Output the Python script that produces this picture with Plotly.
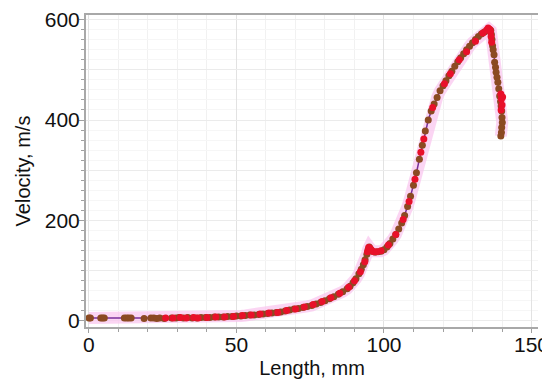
import plotly.graph_objects as go

# Brown (main) markers: length (mm), velocity (m/s)
length_a = [0, 0.5, 4, 4.6, 5.2, 12, 12.8, 13.5, 14.3, 18.7, 21, 22, 23, 24, 25.5, 28, 29.5, 30.5,
            32, 33.5, 35, 36.5, 38, 39.5, 41, 42.5, 44, 45.5, 47, 48.5, 50, 51.5, 53, 54.5, 56,
            57.5, 59, 60.5, 62, 63.5, 65, 66.5, 68, 69.5, 71, 72.5, 74, 75.5, 77, 78.5, 80, 81.5,
            83, 84.5, 86, 87.5, 88.5, 89.5, 90.5, 91.5, 92.3, 93, 93.6, 94.2, 94.6, 95, 95.5, 96,
            97, 98, 99, 100, 101, 102, 103, 104, 105, 106, 107, 108, 109, 110, 111, 112, 113, 114,
            115, 116, 117, 118, 119, 120, 121, 122, 123, 124, 125, 126, 127, 128, 129, 130, 131,
            132, 133, 134, 135, 135.6, 136.2, 136.4, 136.6, 136.8, 137, 137.3, 137.5, 137.8, 138,
            138.3, 138.6, 138.9, 139.2, 139.5, 139.7, 139.9, 140, 140.1, 139.9, 139.8, 139.6]
velocity_a = [6, 6, 6, 6, 6, 6, 6, 6, 6, 5, 6, 6, 5, 6, 5, 6, 6, 7,
              6, 7, 6, 6, 7, 7, 7, 8, 8, 8, 9, 9, 10, 10, 11, 12, 12,
              13, 14, 15, 16, 17, 18, 20, 22, 24, 25, 27, 29, 31, 34, 37, 40, 44,
              48, 53, 58, 64, 69, 76, 84, 94, 103, 112, 122, 133, 142, 147, 143, 139,
              137, 138, 139, 142, 147, 154, 163, 172, 183, 195, 210, 228, 248, 270, 295, 322, 350, 378,
              400, 418, 432, 445, 458, 468, 478, 488, 497, 507, 516, 524, 532, 540, 547, 554, 560,
              566, 571, 575, 578, 581, 578, 570, 560, 548, 540, 530, 515, 505, 495,
              485, 475, 462, 448, 437, 428, 418, 405, 395, 385, 375, 368]

# Red markers
length_b = [26, 28.5, 31, 33, 35.5, 37, 40, 43, 46, 49, 52, 55, 58, 61, 64, 67, 70, 73, 76, 79,
            82, 85, 88, 90, 92, 93.5, 94.4, 94.8, 95.2, 95.8, 96.5, 97.5, 99, 101.5, 104, 106.5,
            108.5, 110.5, 112.5, 113.5, 116.5, 120.5, 122.5, 125.5, 128, 131, 133.5, 134.8, 135.3,
            135.9, 136.1, 136.3, 136.5, 139.6, 139.8, 140.0, 139.7, 140.2]
velocity_b = [6, 6, 7, 6, 7, 6, 7, 8, 8, 9, 11, 12, 14, 16, 17, 21, 24, 28, 33, 39,
              46, 55, 67, 80, 98, 118, 138, 146, 145, 141, 138, 138, 140, 151, 172, 202,
              238, 282, 336, 362, 425, 472, 492, 520, 536, 557, 573, 579, 583,
              580, 575, 566, 555, 452, 442, 430, 420, 446]

fig = go.Figure()

# pink halo
fig.add_trace(go.Scatter(x=length_a, y=velocity_a, mode="lines",
                         line=dict(color="rgba(250,195,238,0.7)", width=12),
                         hoverinfo="skip", showlegend=False))
# purple connecting line
fig.add_trace(go.Scatter(x=length_a, y=velocity_a, mode="lines",
                         line=dict(color="#7a2f9a", width=1.5),
                         showlegend=False))
fig.add_trace(go.Scatter(x=length_a, y=velocity_a, mode="markers",
                         marker=dict(color="#8b4a22", size=7),
                         showlegend=False))
fig.add_trace(go.Scatter(x=length_b, y=velocity_b, mode="markers",
                         marker=dict(color="#e8102a", size=7),
                         showlegend=False))
# helper axis for y grid every 100
fig.add_trace(go.Scatter(x=[None], y=[None], yaxis="y2", showlegend=False))

font_family = "Liberation Sans, Arial, sans-serif"

# page body has an 8px default margin, so the figure is 8px smaller
fig.update_layout(
    width=542, height=382,
    margin=dict(l=78, r=12, t=7, b=63),
    paper_bgcolor="white", plot_bgcolor="white",
    font=dict(family=font_family, color="#111111", size=21),
    xaxis=dict(
        range=[-1, 152.2], tickvals=[0, 50, 100, 150], automargin=False,
        ticks="outside", ticklen=4, tickcolor="#a0a0a0", ticklabelstandoff=-6,
        ticklabeloverflow="allow",
        showline=True, linecolor="#a8a8a8", linewidth=2, mirror=True,
        showgrid=True, gridcolor="#e2e2e2", gridwidth=1, zeroline=False,
        minor=dict(dtick=10, ticks="outside", ticklen=3, tickcolor="#a0a0a0",
                   showgrid=True, gridcolor="#f1f1f1"),
        tickfont=dict(size=21),
        title=dict(text="Length, mm", font=dict(size=20), standoff=6),
    ),
    yaxis=dict(
        range=[-12, 609], tickvals=[0, 200, 400, 600], automargin=False,
        ticks="outside", ticklen=5, tickcolor="#a0a0a0", ticklabelstandoff=-5,
        ticklabeloverflow="allow",
        showline=True, linecolor="#a8a8a8", linewidth=2,
        showgrid=True, gridcolor="#e2e2e2", gridwidth=1, zeroline=False,
        minor=dict(dtick=20, ticks="outside", ticklen=3, tickcolor="#a0a0a0",
                   showgrid=True, gridcolor="#f6f6f6"),
        tickfont=dict(size=21),
        title=dict(text="Velocity, m/s", font=dict(size=20), standoff=9),
    ),
    yaxis2=dict(
        range=[-12, 609], overlaying="y", side="left", dtick=100, tick0=0,
        showticklabels=False, ticks="", showgrid=True, gridcolor="#ebebeb",
        zeroline=False, showline=False, automargin=False,
    ),
)

fig.write_html("out.html")
